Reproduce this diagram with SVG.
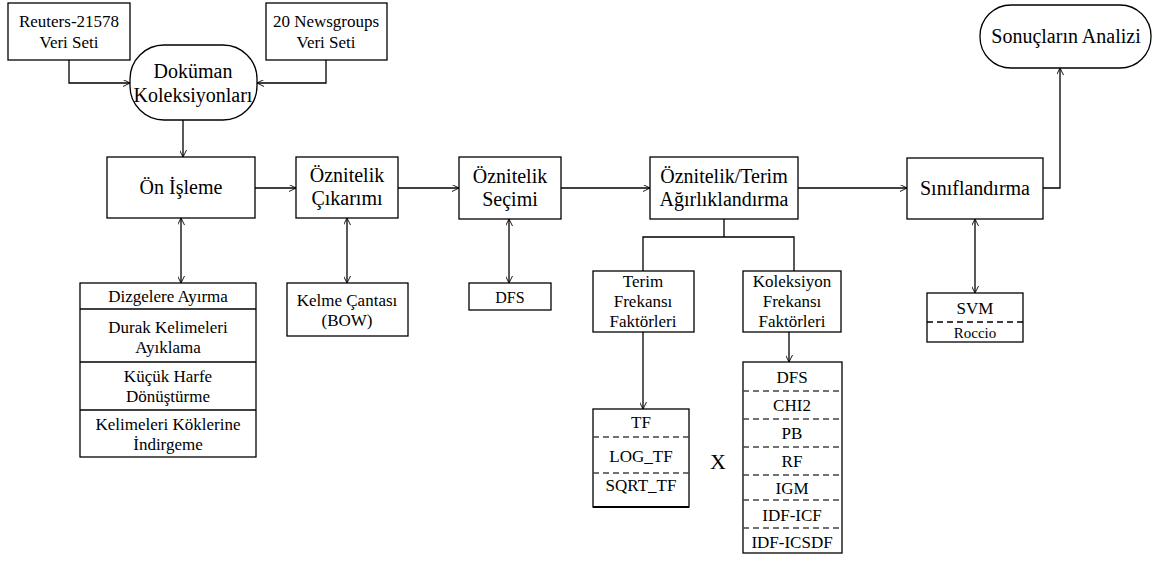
<svg xmlns="http://www.w3.org/2000/svg" width="1153" height="561" viewBox="0 0 1153 561" font-family="'Liberation Serif', 'Times New Roman', Tinos, 'DejaVu Serif', serif">
<style>
.b{fill:#fff;stroke:#000;stroke-width:1.3}
.c{fill:none;stroke:#000;stroke-width:1.3}
.d{fill:none;stroke:#444;stroke-width:1.3;stroke-dasharray:6 4}
text{font-family:'Liberation Serif','Times New Roman',Tinos,'DejaVu Serif',serif;fill:#000;text-anchor:middle}
.t20{font-size:20px}
.t17{font-size:17px}
.t16{font-size:16px}
.t15{font-size:15px}
</style>
<defs>
<marker id="ah" viewBox="0 0 10 10" refX="10" refY="5" markerWidth="7" markerHeight="7" orient="auto-start-reverse" markerUnits="userSpaceOnUse">
<path d="M0,0 L10,5 L0,10" fill="none" stroke="#000" stroke-width="1.3"/>
</marker>
</defs>
<rect width="1153" height="561" fill="#fff"/>

<g id="connectors">
<path class="c" d="M69,60 V83 H130" marker-end="url(#ah)"/>
<path class="c" d="M326,60 V83 H257" marker-end="url(#ah)"/>
<path class="c" d="M183,120 V157" marker-end="url(#ah)"/>
<path class="c" d="M255,188 H296" marker-end="url(#ah)"/>
<path class="c" d="M398,188 H459" marker-end="url(#ah)"/>
<path class="c" d="M561,188 H650" marker-end="url(#ah)"/>
<path class="c" d="M798,188 H907" marker-end="url(#ah)"/>
<path class="c" d="M1043,188 H1060 V68" marker-end="url(#ah)"/>
<path class="c" d="M181,218 V283" marker-start="url(#ah)" marker-end="url(#ah)"/>
<path class="c" d="M347,218 V283" marker-start="url(#ah)" marker-end="url(#ah)"/>
<path class="c" d="M509,219 V283" marker-start="url(#ah)" marker-end="url(#ah)"/>
<path class="c" d="M975,219 V293" marker-start="url(#ah)" marker-end="url(#ah)"/>
<path class="c" d="M724,219 V237 M643,271 V237 H794 V271"/>
<path class="c" d="M643,332 V409" marker-end="url(#ah)"/>
<path class="c" d="M789,332 V362" marker-end="url(#ah)"/>
</g>

<g id="reuters">
<rect class="b" x="8" y="3" width="122" height="57"/>
<text class="t17" x="69" y="27">Reuters-21578</text>
<text class="t17" x="69" y="48">Veri Seti</text>
</g>
<g id="newsgroups">
<rect class="b" x="266" y="3" width="121" height="57"/>
<text class="t17" x="326" y="27">20 Newsgroups</text>
<text class="t17" x="326" y="48">Veri Seti</text>
</g>
<g id="dokuman">
<rect class="b" x="130" y="45" width="127" height="75" rx="34" ry="34"/>
<text class="t20" x="193" y="78">Doküman</text>
<text class="t20" x="193" y="102">Koleksiyonları</text>
</g>
<g id="on-isleme">
<rect class="b" x="107" y="157" width="148" height="61"/>
<text class="t20" x="181" y="194">Ön İşleme</text>
</g>
<g id="oznitelik-cikarimi">
<rect class="b" x="296" y="157" width="102" height="61"/>
<text class="t20" x="347" y="182">Öznitelik</text>
<text class="t20" x="347" y="205">Çıkarımı</text>
</g>
<g id="oznitelik-secimi">
<rect class="b" x="459" y="157" width="102" height="62"/>
<text class="t20" x="510" y="183">Öznitelik</text>
<text class="t20" x="510" y="206">Seçimi</text>
</g>
<g id="agirliklandirma">
<rect class="b" x="650" y="157" width="148" height="62"/>
<text class="t20" x="724" y="183">Öznitelik/Terim</text>
<text class="t20" x="724" y="206">Ağırlıklandırma</text>
</g>
<g id="siniflandirma">
<rect class="b" x="907" y="158" width="136" height="61"/>
<text class="t20" x="975" y="195">Sınıflandırma</text>
</g>
<g id="sonuclar">
<rect class="b" x="980" y="5" width="171" height="63" rx="31" ry="31"/>
<text class="t20" x="1066" y="43">Sonuçların Analizi</text>
</g>

<g id="onisleme-list">
<rect class="b" x="80" y="283" width="176" height="174"/>
<line class="c" x1="80" y1="309" x2="256" y2="309"/>
<line class="c" x1="80" y1="362" x2="256" y2="362"/>
<line class="c" x1="80" y1="410" x2="256" y2="410"/>
<text class="t17" x="168" y="302">Dizgelere Ayırma</text>
<text class="t17" x="168" y="333">Durak Kelimeleri</text>
<text class="t17" x="168" y="353">Ayıklama</text>
<text class="t17" x="168" y="382">Küçük Harfe</text>
<text class="t17" x="168" y="402">Dönüştürme</text>
<text class="t17" x="168" y="430">Kelimeleri Köklerine</text>
<text class="t17" x="168" y="450">İndirgeme</text>
</g>
<g id="kelme-cantasi">
<rect class="b" x="287" y="283" width="121" height="53"/>
<text class="t17" x="347" y="306">Kelme Çantası</text>
<text class="t17" x="347" y="326">(BOW)</text>
</g>
<g id="dfs-secim">
<rect class="b" x="469" y="283" width="82" height="27"/>
<text class="t16" x="510" y="303">DFS</text>
</g>
<g id="terim-frekansi">
<rect class="b" x="593" y="271" width="101" height="61"/>
<text class="t17" x="643" y="287">Terim</text>
<text class="t17" x="643" y="307">Frekansı</text>
<text class="t17" x="643" y="327">Faktörleri</text>
</g>
<g id="koleksiyon-frekansi">
<rect class="b" x="743" y="271" width="98" height="61"/>
<text class="t17" x="792" y="287">Koleksiyon</text>
<text class="t17" x="792" y="307">Frekansı</text>
<text class="t17" x="792" y="327">Faktörleri</text>
</g>
<g id="tf-list">
<rect class="b" x="593" y="409" width="96" height="98"/>
<line x1="593" y1="507" x2="689" y2="507" stroke="#000" stroke-width="2.2"/>
<line class="d" x1="593" y1="437" x2="689" y2="437"/>
<line class="d" x1="593" y1="473" x2="689" y2="473"/>
<text class="t17" x="641" y="428">TF</text>
<text class="t17" x="641" y="462">LOG_TF</text>
<text class="t17" x="641" y="491">SQRT_TF</text>
</g>
<g id="carpim">
<text x="718" y="469" style="font-size:22px">X</text>
</g>
<g id="kf-list">
<rect class="b" x="743" y="362" width="99" height="191"/>
<line class="d" x1="743" y1="391" x2="842" y2="391"/>
<line class="d" x1="743" y1="419" x2="842" y2="419"/>
<line class="d" x1="743" y1="447" x2="842" y2="447"/>
<line class="d" x1="743" y1="475" x2="842" y2="475"/>
<line class="d" x1="743" y1="500" x2="842" y2="500"/>
<line class="d" x1="743" y1="528" x2="842" y2="528"/>
<text class="t17" x="792" y="383">DFS</text>
<text class="t17" x="792" y="411">CHI2</text>
<text class="t17" x="792" y="439">PB</text>
<text class="t17" x="792" y="467">RF</text>
<text class="t17" x="792" y="494">IGM</text>
<text class="t17" x="792" y="521">IDF-ICF</text>
<text class="t17" x="792" y="548">IDF-ICSDF</text>
</g>
<g id="svm-roccio">
<rect class="b" x="927" y="293" width="96" height="49"/>
<line x1="927" y1="322" x2="1023" y2="322" stroke="#000" stroke-width="1.3" stroke-dasharray="6 4"/>
<text class="t17" x="975" y="314">SVM</text>
<text class="t15" x="975" y="338">Roccio</text>
</g>
</svg>
